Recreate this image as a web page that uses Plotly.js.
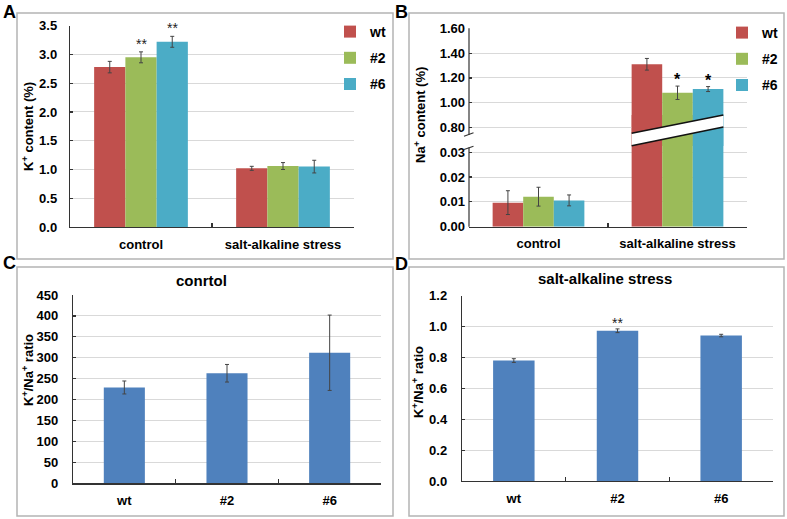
<!DOCTYPE html>
<html>
<head>
<meta charset="utf-8">
<script src="https://cdn.plot.ly/plotly-3.0.1.min.js"></script>
<style>html,body{margin:0;padding:0;background:#fff;}#chart{width:787px;height:519px;}</style>
</head>
<body>
<div id="chart"></div>
<script>
// ---------- data ----------
const groups = ['control', 'salt-alkaline stress'];
const lines = ['wt', '#2', '#6'];

// A: K+ content (%)
const kWt = [2.78, 1.02];
const kWtErr = [0.10, 0.035];
const k2 = [2.95, 1.06];
const k2Err = [0.095, 0.06];
const k6 = [3.22, 1.05];
const k6Err = [0.095, 0.11];
const kSig = [['', ''], ['**', ''], ['**', '']];

// B: Na+ content (%)
const naWt = [0.0097, 1.31];
const naWtErr = [0.0048, 0.047];
const na2 = [0.0121, 1.08];
const na2Err = [0.0038, 0.054];
const na6 = [0.0106, 1.11];
const na6Err = [0.0022, 0.02];
const naSig = [['', ''], ['', '*'], ['', '*']];
const naLowTicks = [0, 0.01, 0.02, 0.03];
const naHighTicks = [0.8, 1.0, 1.2, 1.4, 1.6];

// C: K+/Na+ ratio, control
const ratioControl = [229, 263, 312];
const ratioControlErr = [15.5, 21, 90];
// D: K+/Na+ ratio, salt-alkaline stress
const ratioStress = [0.78, 0.973, 0.942];
const ratioStressErr = [0.012, 0.012, 0.008];
const ratioStressSig = ['', '**', ''];

// ---------- styling ----------
const W = 787, H = 519;
const px = x => x / W;
const py = y => (H - y) / H;
const FAM = 'Arial, "Liberation Sans", sans-serif';
const colors = ['#C0504D', '#9BBB59', '#4BACC6'];
const blue = '#4F81BD';
const axisColor = '#333333';
const gridColor = '#D9D9D9';
const BARGAP = 0.34;
const slot = (1 - BARGAP) / 3;

const tickFont = {family: FAM, size: 13, color: '#000', weight: 'bold'};
const titleFont = {family: FAM, size: 13, color: '#000', weight: 'bold'};
const errStyle = (arr) => ({type: 'data', array: arr, visible: true, color: '#444', thickness: 1, width: 2});

const kVals = [kWt, k2, k6], kErrs = [kWtErr, k2Err, k6Err];
const naVals = [naWt, na2, na6], naErrs = [naWtErr, na2Err, na6Err];

const traces = [];
lines.forEach((name, i) => {
  traces.push({type: 'bar', name: name, x: groups, y: kVals[i], xaxis: 'x', yaxis: 'y',
    marker: {color: colors[i]}, error_y: errStyle(kErrs[i]),
    legend: 'legend', legendgroup: 'a' + i, showlegend: true});
});
lines.forEach((name, i) => {
  traces.push({type: 'bar', name: name, x: groups, y: naVals[i], xaxis: 'x2', yaxis: 'y2',
    marker: {color: colors[i]}, error_y: errStyle(naErrs[i]),
    legend: 'legend2', legendgroup: 'b' + i, showlegend: true});
});
lines.forEach((name, i) => {
  traces.push({type: 'bar', name: name, x: groups, y: naVals[i], xaxis: 'x2', yaxis: 'y3',
    marker: {color: colors[i]}, error_y: errStyle(naErrs[i]), showlegend: false});
});
traces.push({type: 'bar', x: lines, y: ratioControl, xaxis: 'x3', yaxis: 'y4', width: 0.4,
  marker: {color: blue}, error_y: errStyle(ratioControlErr), showlegend: false});
traces.push({type: 'bar', x: lines, y: ratioStress, xaxis: 'x4', yaxis: 'y5', width: 0.4,
  marker: {color: blue}, error_y: errStyle(ratioStressErr), showlegend: false});

const xBase = {type: 'category', showline: true, linecolor: axisColor, linewidth: 1.2,
  ticks: 'inside', tickson: 'boundaries', ticklen: 4, tickcolor: axisColor, tickwidth: 1.2,
  showgrid: false, zeroline: false, tickfont: tickFont, ticklabelstandoff: 5, fixedrange: true};
const yBase = {showgrid: true, gridcolor: gridColor, gridwidth: 1, showline: true,
  linecolor: axisColor, linewidth: 1.2, ticks: 'inside', ticklen: 3, tickcolor: axisColor,
  tickwidth: 1.2, zeroline: false, tickfont: tickFont, fixedrange: true};

// significance annotations
const annotations = [];
kSig.forEach((row, i) => row.forEach((s, g) => {
  if (s) annotations.push({xref: 'x', yref: 'y', x: g + (i - 1) * slot, y: kVals[i][g] + kErrs[i][g],
    text: s, showarrow: false, xanchor: 'center', yanchor: 'bottom', yshift: -2,
    font: {family: FAM, size: 14, color: '#222'}});
}));
naSig.forEach((row, i) => row.forEach((s, g) => {
  if (s) annotations.push({xref: 'x2', yref: 'y3', x: g + (i - 1) * slot, y: naVals[i][g] + naErrs[i][g],
    text: s, showarrow: false, xanchor: 'center', yanchor: 'bottom', yshift: -4,
    font: {family: FAM, size: 16, color: '#000', weight: 'bold'}});
}));
ratioStressSig.forEach((s, i) => {
  if (s) annotations.push({xref: 'x4', yref: 'y5', x: i, y: ratioStress[i] + ratioStressErr[i],
    text: s, showarrow: false, xanchor: 'center', yanchor: 'bottom', yshift: -4,
    font: {family: FAM, size: 14, color: '#222'}});
});
// panel letters
[['A', 1, 0], ['B', 393, 0], ['C', 1, 251], ['D', 393, 252]].forEach(([t, x, y]) => {
  annotations.push({xref: 'paper', yref: 'paper', x: px(x), y: py(y), xanchor: 'left', yanchor: 'top',
    text: t, showarrow: false, font: {family: FAM, size: 18, color: '#000', weight: 'bold'}});
});
// panel titles C, D
annotations.push({xref: 'paper', yref: 'paper', x: px(202), y: py(280), text: 'conrtol', showarrow: false,
  xanchor: 'center', yanchor: 'middle', font: {family: FAM, size: 15, color: '#000', weight: 'bold'}});
annotations.push({xref: 'paper', yref: 'paper', x: px(605), y: py(278), text: 'salt-alkaline stress', showarrow: false,
  xanchor: 'center', yanchor: 'middle', font: {family: FAM, size: 15, color: '#000', weight: 'bold'}});
// y titles placed as in the reference (B split axis; C, D raised)
[['Na<sup>+</sup> content (%)', 420, 115], ['K<sup>+</sup>/Na<sup>+</sup> ratio', 28, 370],
 ['K<sup>+</sup>/Na<sup>+</sup> ratio', 418, 382]].forEach(([t, x, y]) => {
  annotations.push({xref: 'paper', yref: 'paper', x: px(x), y: py(y), text: t,
    xanchor: 'center', yanchor: 'middle', textangle: -90, showarrow: false, font: titleFont});
});

// shapes: panel frames, B axis break
const shapes = [];
[[17, 13, 393, 259], [409, 13, 784, 259], [17, 267, 393, 516], [409, 267, 784, 516]].forEach(([x0, y0, x1, y1]) => {
  shapes.push({type: 'rect', xref: 'paper', yref: 'paper', x0: px(x0), x1: px(x1), y0: py(y0), y1: py(y1),
    line: {color: '#B4B4B4', width: 1.5}, layer: 'below'});
});
shapes.push({type: 'line', xref: 'x2 domain', yref: 'paper', x0: 0, x1: 0, y0: py(28.3), y1: py(135), line: {color: axisColor, width: 1.2}});
shapes.push({type: 'line', xref: 'x2 domain', yref: 'paper', x0: 0, x1: 0, y0: py(147.5), y1: py(226.7), line: {color: axisColor, width: 1.2}});
shapes.push({type: 'line', xref: 'paper', yref: 'paper', x0: px(464), x1: px(473.5), y0: py(136.3), y1: py(132.7), line: {color: axisColor, width: 1.2}});
shapes.push({type: 'line', xref: 'paper', yref: 'paper', x0: px(464), x1: px(473.5), y0: py(149.5), y1: py(146.2), line: {color: axisColor, width: 1.2}});
const gL = 1 - 3 * slot / 2, gR = 1 + 3 * slot / 2;
shapes.push({type: 'path', xref: 'x2', yref: 'paper', layer: 'above',
  path: `M${gL},${py(145.7)} L${gR},${py(127)} L${gR},${py(115)} L${gL},${py(133.3)} Z`,
  fillcolor: '#FFFFFF', line: {width: 0}});
shapes.push({type: 'line', xref: 'x2', yref: 'paper', layer: 'above', x0: gL, x1: gR, y0: py(145.7), y1: py(127), line: {color: '#111', width: 1.6}});
shapes.push({type: 'line', xref: 'x2', yref: 'paper', layer: 'above', x0: gL, x1: gR, y0: py(133.3), y1: py(115), line: {color: '#111', width: 1.6}});

const legendBase = {xanchor: 'left', yanchor: 'top', bgcolor: 'rgba(0,0,0,0)', borderwidth: 0,
  font: {family: FAM, size: 14, color: '#000', weight: 'bold'}, traceorder: 'grouped', tracegroupgap: 5};

const layout = {
  width: W, height: H, margin: {l: 0, r: 0, t: 0, b: 0},
  paper_bgcolor: '#fff', plot_bgcolor: 'rgba(0,0,0,0)',
  barmode: 'group', bargap: BARGAP, bargroupgap: 0, hovermode: false,
  font: {family: FAM, color: '#000'},
  legend: Object.assign({x: px(330), y: py(16)}, legendBase),
  legend2: Object.assign({x: px(722), y: py(17)}, legendBase),
  xaxis: Object.assign({}, xBase, {domain: [px(70), px(354)], anchor: 'y'}),
  yaxis: Object.assign({}, yBase, {domain: [py(227), py(25.7)], anchor: 'x', range: [0, 3.5],
    tick0: 0, dtick: 0.5, tickformat: '.1f', ticklabelstandoff: 9,
    title: {text: 'K<sup>+</sup> content (%)', font: titleFont, standoff: 2}}),
  xaxis2: Object.assign({}, xBase, {domain: [px(469), px(747)], anchor: 'y2'}),
  yaxis2: Object.assign({}, yBase, {domain: [py(226.67), py(115)], anchor: 'x2', range: [0, 0.04505],
    tickvals: naLowTicks, tickformat: '.2f', showline: false, ticklabelstandoff: 3}),
  yaxis3: Object.assign({}, yBase, {domain: [py(146), py(28.33)], anchor: 'x2', range: [0.6507, 1.6],
    tickvals: naHighTicks, tickformat: '.2f', showline: false, ticklabelstandoff: 3}),
  xaxis3: Object.assign({}, xBase, {domain: [px(73), px(381)], anchor: 'y4'}),
  yaxis4: Object.assign({}, yBase, {domain: [py(483.3), py(295)], anchor: 'x3', range: [0, 450],
    tick0: 0, dtick: 50, ticklabelstandoff: 11}),
  xaxis4: Object.assign({}, xBase, {domain: [px(462), px(773)], anchor: 'y5'}),
  yaxis5: Object.assign({}, yBase, {domain: [py(481), py(295.7)], anchor: 'x4', range: [0, 1.2],
    tick0: 0, dtick: 0.2, tickformat: '.1f', ticklabelstandoff: 11}),
  annotations: annotations,
  shapes: shapes
};

Plotly.newPlot('chart', traces, layout, {staticPlot: true, displayModeBar: false});
</script>
</body>
</html>
